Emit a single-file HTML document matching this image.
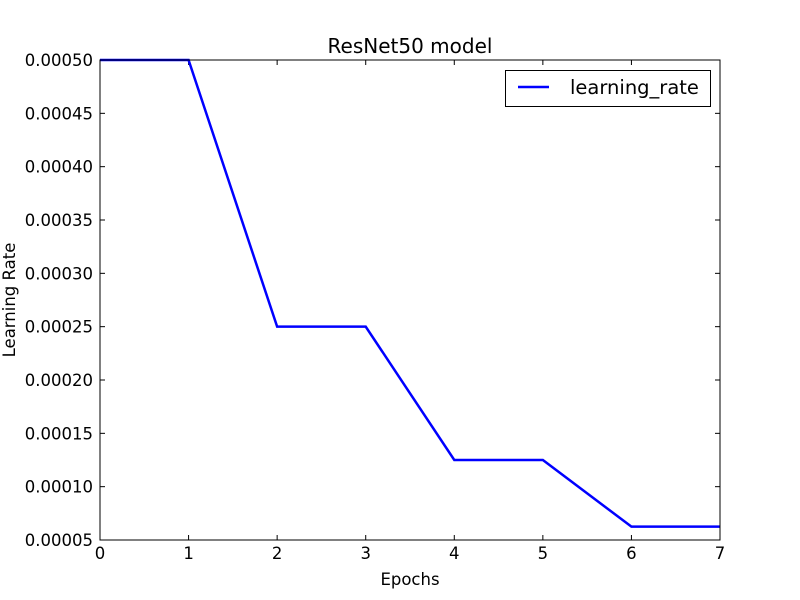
<!DOCTYPE html>
<html><head><meta charset="utf-8"><style>
body{margin:0;background:#fff;}
svg{display:block;font-family:"DejaVu Sans","Liberation Sans",sans-serif;}
</style></head><body>
<svg id="chart" width="800" height="600" xmlns="http://www.w3.org/2000/svg">
<rect width="800" height="600" fill="#fff"/>
<text x="410" y="53" text-anchor="middle" font-size="20">ResNet50 model</text>
<text x="410" y="585" text-anchor="middle" font-size="16.5">Epochs</text>
<text transform="translate(15,300) rotate(-90)" text-anchor="middle" font-size="16.5">Learning Rate</text>
<g id="ticks"></g>
<g id="series"></g>
<rect x="100" y="60" width="620" height="480" fill="none" stroke="#000" stroke-width="1"/>
<g>
<rect x="505.5" y="70.5" width="205" height="36" fill="#fff" stroke="#000"/>
<line x1="518" y1="87" x2="549" y2="87" stroke="#0000ff" stroke-width="2.5"/>
<text x="570" y="94" font-size="19.5">learning_rate</text>
</g>
</svg>
<script>
const epochs=[0,1,2,3,4,5,6,7];
const learningRate=[0.0005,0.0005,0.00025,0.00025,0.000125,0.000125,0.0000625,0.0000625];
const xTicks=[0,1,2,3,4,5,6,7];
const yTicks=[0.00005,0.0001,0.00015,0.0002,0.00025,0.0003,0.00035,0.0004,0.00045,0.0005];
const NS="http://www.w3.org/2000/svg";
const X0=100,X1=720,Y0=540,Y1=60;
const xs=v=>X0+(v-0)/(7-0)*(X1-X0);
const ys=v=>Y0-(v-0.00005)/(0.0005-0.00005)*(Y0-Y1);
function mk(t,a){const e=document.createElementNS(NS,t);for(const k in a)e.setAttribute(k,a[k]);return e;}
const tg=document.getElementById('ticks');
xTicks.forEach(v=>{const x=xs(v);
 const l1=mk('line',{x1:x,y1:Y0,x2:x,y2:Y0-5,stroke:'#000'});
 
 tg.appendChild(l1);
 const l2=mk('line',{x1:x,y1:Y1,x2:x,y2:Y1+5,stroke:'#000'});
 
 tg.appendChild(l2);
 const t=mk('text',{x:x,y:Y0+19,'text-anchor':'middle','font-size':16.5});t.textContent=v;
 
 tg.appendChild(t);});
yTicks.forEach(v=>{const y=ys(v);
 const l1=mk('line',{x1:X0,y1:y,x2:X0+5,y2:y,stroke:'#000'});
 
 tg.appendChild(l1);
 const l2=mk('line',{x1:X1,y1:y,x2:X1-5,y2:y,stroke:'#000'});
 
 tg.appendChild(l2);
 const t=mk('text',{x:X0-7,y:y+6,'text-anchor':'end','font-size':16.5});t.textContent=v.toFixed(5);
 
 tg.appendChild(t);});
const p=mk('polyline',{points:epochs.map((e,i)=>xs(e)+','+ys(learningRate[i])).join(' '),fill:'none',stroke:'#0000ff','stroke-width':2.5});


document.getElementById('series').appendChild(p);
</script>
</body></html>
